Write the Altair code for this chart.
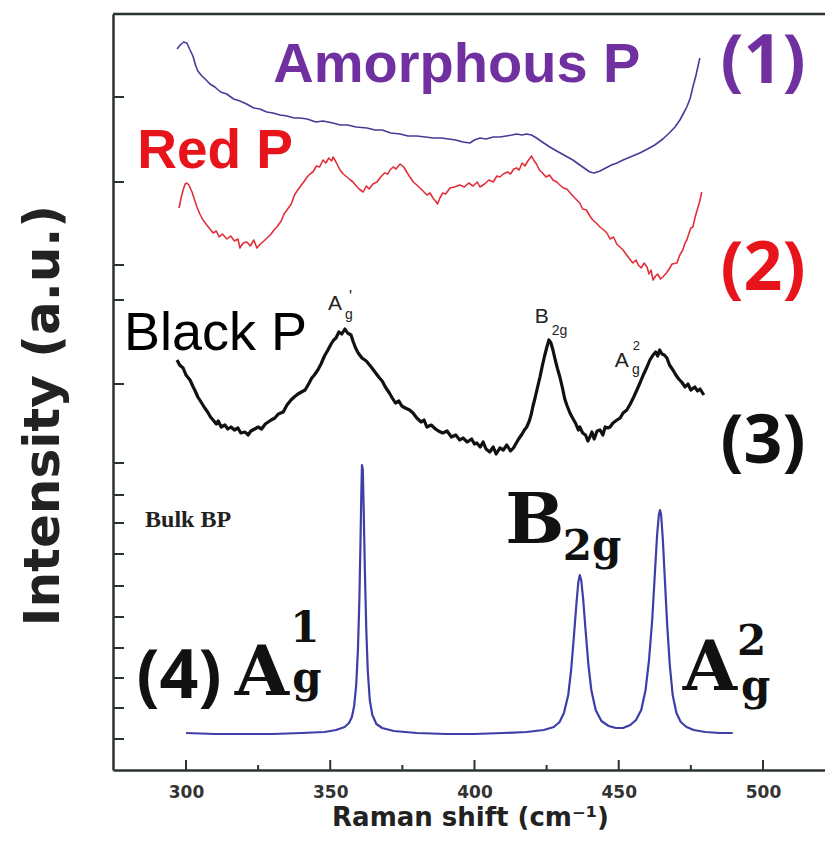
import altair as alt
import pandas as pd

# ---------------- data ----------------
amorph_x = [296.9, 298.0, 299.2, 300.3, 301.4, 302.4, 303.3, 304.1, 305.5, 307.0, 308.3, 310.0, 312.0, 314.1, 316.5, 318.7,
            321.0, 323.5, 325.6, 328.0, 330.2, 332.6, 335.0, 337.5, 339.5, 342.0, 345.0, 347.5, 350.9, 353.5, 356.0, 359.0,
            362.7, 365.5, 368.0, 371.0, 374.2, 377.0, 380.0, 383.0, 385.6, 388.5, 391.0, 393.5, 396.0, 398.4, 400.0, 401.9,
            404.0, 406.5, 408.8, 411.0, 413.0, 414.6, 416.5, 418.0, 419.8, 421.5, 423.5, 426.1, 428.5, 431.0, 434.1, 436.5,
            438.5, 440.0, 441.5, 443.5, 445.5, 447.5, 449.4, 451.5, 454.0, 457.3, 460.0, 462.5, 465.3, 467.5, 469.5, 471.2,
            472.5, 473.6, 474.8, 475.7, 476.8, 478.1]
amorph_y = [721, 725, 728, 727, 720, 714, 705, 699, 694, 690, 686, 683, 678, 676, 671, 669,
            666, 662, 661, 658, 657, 655, 654, 652, 652, 651, 648, 649, 647, 645, 645, 643,
            642, 640, 640, 637, 636, 634, 634, 633, 632, 632, 631, 630, 628, 627, 630, 632,
            631, 633, 633, 634, 635, 636, 635, 636, 635, 632, 628, 623, 619, 615, 610, 605,
            601, 598, 597, 599, 602, 605, 607, 610, 613, 617, 621, 625, 631, 637, 643, 650,
            657, 663, 672, 683, 695, 712]

red_x = [297.6, 298.3, 299.0, 299.7, 300.3, 301.0, 302.1, 303.0, 303.8, 304.8, 305.9, 307.2, 308.3, 309.4, 310.5, 311.5,
         312.6, 314.2, 315.5, 316.8, 318.0, 318.7, 319.8, 321.1, 322.3, 323.5, 324.6, 325.8, 327.0, 328.1, 329.5, 330.5,
         331.5, 333.0, 334.0, 335.0, 336.5, 337.6, 338.5, 339.5, 340.8, 342.0, 343.0, 344.0, 345.2, 346.3, 347.5, 348.5,
         349.5, 350.5, 351.0, 352.0, 353.4, 354.5, 355.8, 357.0, 357.9, 359.0, 360.0, 361.4, 362.5, 363.5, 364.8, 366.2,
         367.5, 368.8, 370.0, 370.7, 371.8, 372.8, 374.2, 375.5, 376.5, 377.6, 378.8, 380.0, 381.1, 382.5, 383.5, 384.6,
         385.6, 386.5, 387.2, 388.0, 389.0, 390.0, 391.5, 393.0, 394.9, 396.5, 398.0, 399.5, 401.0, 401.9, 403.5, 405.0,
         406.5, 407.8, 408.8, 410.0, 411.5, 412.5, 413.6, 414.6, 415.5, 416.5, 417.5, 418.5, 419.3, 419.8, 420.5, 421.5,
         422.5, 423.6, 424.8, 426.0, 427.2, 428.5, 429.6, 430.8, 432.0, 433.5, 434.8, 436.5, 437.5, 438.8, 440.0, 441.0,
         442.2, 443.5, 444.8, 445.9, 447.0, 448.2, 449.3, 450.4, 451.5, 452.5, 453.8, 454.9, 456.0, 456.8, 457.8, 458.8,
         459.8, 460.5, 461.2, 461.9, 462.8, 463.5, 464.5, 465.3, 466.5, 467.5, 468.5, 470.2, 471.0, 472.2, 473.0, 473.6,
         474.5, 475.0, 475.7, 476.5, 477.2, 478.0, 478.8]
red_y = [562, 572, 580, 586, 587, 585, 578, 570, 563, 556, 550, 545, 541, 537, 539, 533,
         536, 531, 534, 529, 531, 522, 527, 528, 524, 530, 522, 526, 529, 532, 536, 540,
         543, 549, 556, 560, 566, 575, 579, 583, 588, 593, 596, 598, 604, 603, 610, 607,
         612, 609, 613, 608, 600, 596, 593, 590, 588, 584, 581, 578, 584, 581, 586, 588,
         593, 597, 596, 600, 603, 601, 606, 603, 598, 593, 588, 585, 582, 578, 575, 577,
         572, 569, 566, 572, 577, 576, 582, 583, 585, 583, 587, 584, 588, 583, 586, 590,
         588, 594, 593, 596, 598, 596, 601, 602, 600, 607, 604, 609, 612, 614, 610, 606,
         600, 597, 593, 595, 590, 588, 585, 582, 581, 576, 572, 567, 561, 560, 554, 550,
         547, 543, 540, 537, 531, 533, 526, 523, 520, 516, 511, 507, 510, 505, 502, 507,
         503, 496, 500, 490, 494, 496, 491, 493, 497, 501, 506, 507, 514, 520, 527, 530,
         538, 542, 543, 553, 560, 568, 578]

black_x = [296.9, 297.8, 299.0, 300.0, 301.4, 302.5, 303.2, 304.1, 305.0, 306.5, 307.5, 308.5, 309.4, 310.5, 311.2, 312.2,
           313.5, 314.5, 315.6, 316.8, 318.0, 319.0, 320.5, 321.5, 322.5, 323.8, 325.0, 326.2, 327.5, 328.5, 329.5, 330.8,
           332.0, 333.7, 335.0, 336.4, 337.5, 338.8, 340.0, 341.3, 342.5, 343.6, 344.5, 345.7, 346.8, 348.0, 349.2, 350.3,
           351.2, 352.0, 353.0, 354.0, 355.1, 356.0, 357.2, 358.0, 358.8, 359.7, 361.0, 362.5, 364.2, 365.5, 366.8, 368.0,
           369.1, 370.5, 371.5, 372.6, 373.8, 374.8, 376.0, 377.5, 378.7, 380.0, 381.5, 382.5, 383.5, 385.0, 386.5, 387.5,
           389.0, 390.5, 392.0, 393.5, 394.9, 396.0, 397.5, 399.0, 400.0, 400.8, 402.0, 403.0, 404.0, 405.3, 406.5, 407.5,
           408.8, 410.0, 411.2, 412.5, 413.5, 414.5, 415.3, 416.5, 417.3, 418.1, 419.0, 419.7, 420.2, 421.0, 421.8, 422.7,
           423.5, 424.3, 425.1, 425.8, 426.5, 427.2, 428.0, 428.8, 429.6, 430.5, 431.3, 432.0, 433.1, 434.0, 435.0, 436.0,
           436.5, 437.5, 438.5, 439.3, 440.0, 440.7, 441.5, 442.5, 443.5, 444.5, 445.3, 446.2, 447.0, 448.0, 449.4, 450.5,
           451.5, 452.8, 454.0, 455.2, 456.3, 457.5, 458.5, 459.8, 460.8, 461.9, 462.8, 463.5, 464.2, 465.0, 465.8, 466.7,
           467.6, 468.8, 469.8, 470.8, 471.8, 473.0, 474.0, 475.0, 476.4, 477.3, 478.2, 479.5]
black_y = [410, 405, 402, 395, 390, 383, 379, 373, 369, 362, 358, 353, 350, 346, 349, 343,
           345, 341, 343, 340, 342, 337, 338, 335, 339, 341, 343, 341, 346, 348, 350, 352,
           356, 358, 365, 370, 373, 376, 378, 380, 386, 392, 395, 400, 406, 414, 420, 426,
           430, 432, 438, 436, 441, 437, 435, 428, 422, 417, 412, 409, 403, 398, 393, 389,
           383, 377, 372, 367, 369, 364, 362, 360, 357, 352, 348, 350, 343, 345, 341, 339,
           337, 339, 333, 335, 330, 332, 328, 331, 326, 327, 323, 328, 321, 318, 323, 316,
           322, 320, 325, 319, 322, 327, 331, 336, 340, 343, 349, 356, 363, 372, 382, 393,
           404, 414, 423, 430, 427, 420, 410, 401, 393, 382, 371, 365, 357, 352, 347, 340,
           343, 337, 335, 329, 333, 338, 331, 339, 340, 335, 343, 342, 343, 347, 350, 352,
           357, 360, 366, 373, 380, 388, 395, 403, 410, 415, 418, 414, 420, 416, 415, 412,
           405, 400, 395, 391, 388, 383, 386, 380, 383, 379, 381, 375]

bulk_x = [300.0, 310.0, 320.0, 330.0, 340.0, 348.0, 352.0, 355.0, 356.5, 357.5, 358.3, 359.0, 359.6, 360.1, 360.5, 360.8,
          361.0, 361.3, 361.6, 362.0, 362.5, 363.0, 363.7, 364.6, 366.0, 368.0, 372.0, 380.0, 390.0, 400.0, 410.0, 418.0,
          424.0, 427.5, 429.5, 431.0, 432.5, 433.5, 434.5, 435.3, 436.0, 436.5, 437.0, 437.7, 438.5, 439.5, 440.5, 442.0,
          444.0, 446.5, 449.0, 451.5, 454.0, 456.0, 457.8, 459.3, 460.5, 461.6, 462.5, 463.3, 463.9, 464.3, 464.7, 465.3,
          466.0, 466.8, 467.7, 468.7, 470.0, 471.5, 473.5, 476.0, 480.0, 485.0, 489.5]
bulk_y = [37, 36, 36, 36, 37, 38, 40, 43, 47, 53, 64, 85, 120, 170, 230, 280,
          305, 300, 260, 200, 140, 100, 70, 55, 46, 42, 39, 37, 36, 36, 37, 38,
          40, 43, 48, 57, 75, 100, 135, 165, 188, 195, 190, 170, 140, 105, 80, 60,
          49, 44, 42, 42, 45, 50, 60, 80, 110, 150, 195, 235, 255, 260, 255, 230,
          190, 145, 105, 75, 57, 48, 43, 40, 38, 37, 37]

x_major_ticks = [300, 350, 400, 450, 500]
x_minor_ticks = [325, 375, 425, 475]
y_ticks = [673, 588, 505, 470, 386, 307, 275, 247, 216, 184, 153, 122, 92, 62, 31]

# sample labels
name_labels = ["Amorphous P", "Red P", "Black P"]
name_x = [393.9, 310.1, 278.5]
name_y = [688, 602, 420]
number_labels = ["(1)", "(2)", "(3)", "(4)"]
number_x = [500.0, 500.0, 500.0, 297.6]
number_y = [687, 480, 307, 72]

FRAME = "#2b3333"
X_DOMAIN = [274.7, 521.5]
Y_DOMAIN = [0, 756]

xs = alt.Scale(domain=X_DOMAIN, nice=False, zero=False)
ys = alt.Scale(domain=Y_DOMAIN, nice=False, zero=False)

XAX = alt.Axis(values=x_major_ticks, ticks=False, tickSize=0, grid=False, domain=True,
               domainColor=FRAME, domainWidth=2.5, labelFont="DejaVu Sans",
               labelFontWeight="bold", labelFontSize=17, labelColor="#333333",
               labelPadding=14, title="Raman shift (cm\u207b\u00b9)",
               titleFont="DejaVu Sans", titleFontWeight="bold", titleFontSize=26,
               titleColor="#222222", titleX=357, titleY=55, titleAlign="center",
               titleBaseline="alphabetic", titleAnchor="start")
YAX = alt.Axis(values=y_ticks, ticks=False, tickSize=0, labels=False, grid=False, domain=True,
               domainColor=FRAME, domainWidth=2.5, title="Intensity (a.u.)",
               titleFont="DejaVu Sans", titleFontWeight="bold", titleFontSize=50,
               titleColor="#222222", titleX=-55, titleY=401, titleAngle=270,
               titleAlign="center", titleBaseline="alphabetic", titleAnchor="start")


def X():
    return alt.X("x:Q", scale=xs, axis=XAX)


def Y():
    return alt.Y("y:Q", scale=ys, axis=YAX)


def line_layer(xv, yv, color, width):
    df = pd.DataFrame({"x": xv, "y": yv})
    return alt.Chart(df).mark_line(color=color, strokeWidth=width, strokeJoin="round").encode(
        x=X(), y=Y(), order="x:Q")


bulk = line_layer(bulk_x, bulk_y, "#3d3fa6", 2.2)
amorph = line_layer(amorph_x, amorph_y, "#4a3a98", 1.6)
red = line_layer(red_x, red_y, "#e0303a", 1.6)
black = line_layer(black_x, black_y, "#111111", 3.2)

# inward ticks
yt = alt.Chart(pd.DataFrame({"y": y_ticks})).mark_rule(color=FRAME, strokeWidth=2).encode(
    y=Y(), x=alt.value(0), x2=alt.value(11))
xt_major = alt.Chart(pd.DataFrame({"x": x_major_ticks})).mark_rule(color=FRAME, strokeWidth=2).encode(
    x=X(), y=alt.value(756), y2=alt.value(746))
xt_minor = alt.Chart(pd.DataFrame({"x": x_minor_ticks})).mark_rule(color=FRAME, strokeWidth=2).encode(
    x=X(), y=alt.value(756), y2=alt.value(751))
top_border = alt.Chart(pd.DataFrame({"a": [0]})).mark_rule(color=FRAME, strokeWidth=2.5).encode(
    x=alt.value(0), x2=alt.value(712), y=alt.value(0))


def text_layer(label, x, y, size, color, font="Liberation Sans", weight="normal", align="center"):
    df = pd.DataFrame({"x": [x], "y": [y], "t": [label]})
    return alt.Chart(df).mark_text(font=font, fontSize=size, fontWeight=weight, color=color,
                                   align=align, baseline="alphabetic").encode(
        x=X(), y=Y(), text="t:N")


texts = [
    text_layer(name_labels[0], name_x[0], name_y[0], 56, "#7030a0", weight="bold"),
    text_layer(name_labels[1], name_x[1], name_y[1], 55, "#e8141c", weight="bold"),
    text_layer(name_labels[2], name_x[2], name_y[2], 54, "#000000", align="left"),
    text_layer(number_labels[0], number_x[0], number_y[0], 68, "#7030a0", font="Open Sans", weight="bold"),
    text_layer(number_labels[1], number_x[1], number_y[1], 68, "#e8141c", font="Open Sans", weight="bold"),
    text_layer(number_labels[2], number_x[2], number_y[2], 68, "#111111", font="Open Sans", weight="bold"),
    text_layer(number_labels[3], number_x[3], number_y[3], 68, "#111111", font="Open Sans", weight="bold"),
    # black P small peak labels
    text_layer("A", 349.2, 460, 21, "#222222", align="left"),
    text_layer("'", 356.5, 468, 16, "#222222", align="left"),
    text_layer("g", 355.1, 451, 14, "#222222", align="left"),
    text_layer("B", 420.9, 447, 21, "#222222", align="left"),
    text_layer("2g", 426.8, 435, 14, "#222222", align="left"),
    text_layer("A", 448.6, 403, 21, "#222222", align="left"),
    text_layer("2", 454.9, 420, 13, "#222222", align="left"),
    text_layer("g", 454.6, 396, 14, "#222222", align="left"),
    # bulk BP
    text_layer("Bulk BP", 285.8, 243, 24, "#222222", font="Liberation Serif", weight="bold", align="left"),
    text_layer("A", 326.3, 75, 70, "#111111", font="DejaVu Serif", weight="bold"),
    text_layer("1", 341.2, 128, 42, "#111111", font="DejaVu Serif", weight="bold"),
    text_layer("g", 341.9, 78, 42, "#111111", font="DejaVu Serif", weight="bold"),
    text_layer("B", 420.9, 227, 70, "#111111", font="DejaVu Serif", weight="bold"),
    text_layer("2g", 430.6, 210, 42, "#111111", font="DejaVu Serif", weight="bold", align="left"),
    text_layer("A", 481.6, 80, 70, "#111111", font="DejaVu Serif", weight="bold"),
    text_layer("2", 496.1, 115, 42, "#111111", font="DejaVu Serif", weight="bold"),
    text_layer("g", 497.5, 70, 42, "#111111", font="DejaVu Serif", weight="bold"),
]

chart = alt.layer(bulk, amorph, red, black, yt, xt_major, xt_minor, top_border, *texts).properties(
    width=712, height=756,
    autosize=alt.AutoSizeParams(type="none"),
    padding={"left": 113, "top": 14, "right": 0, "bottom": 81},
    background="white",
).configure_view(strokeWidth=0)

chart.save("out.html", embed_options={"renderer": "svg", "actions": False})
